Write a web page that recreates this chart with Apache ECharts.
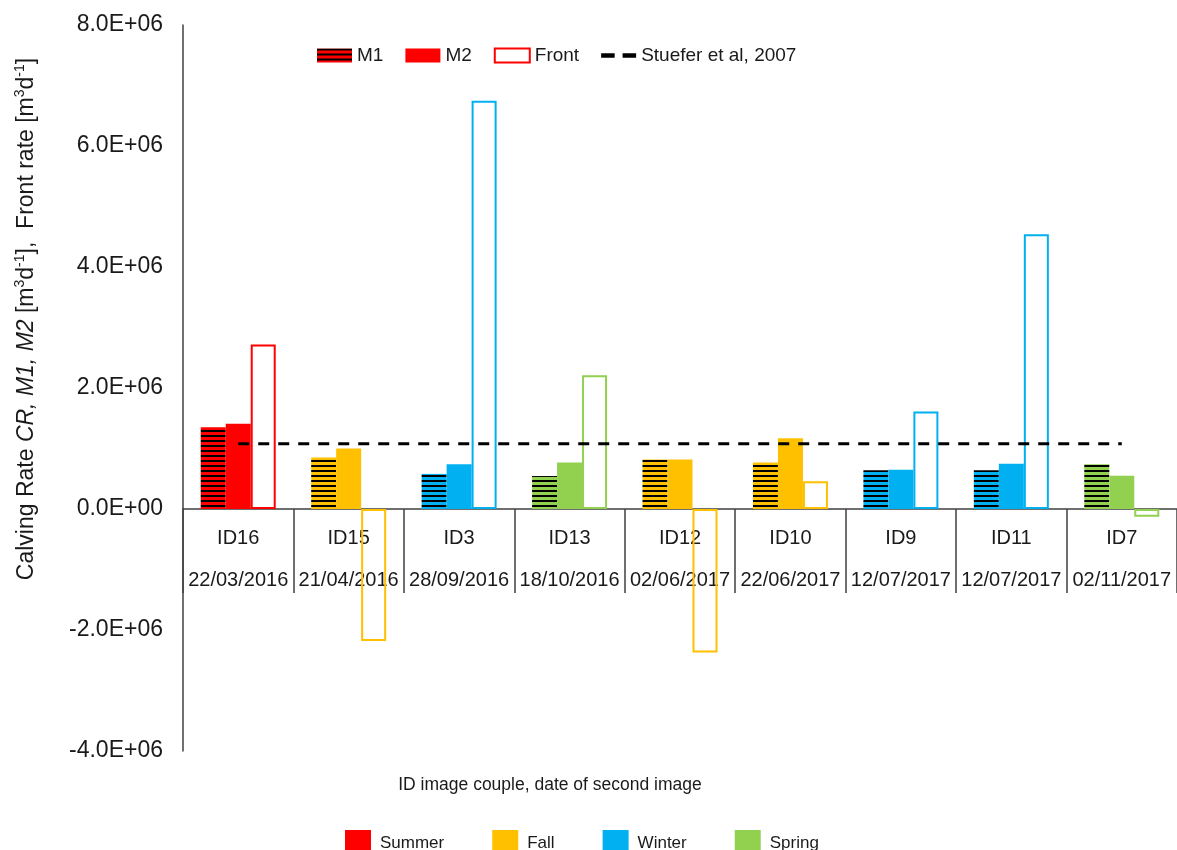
<!DOCTYPE html>
<html>
<head>
<meta charset="utf-8">
<title>Calving rate</title>
<script src="https://cdn.jsdelivr.net/npm/echarts@6/dist/echarts.min.js"></script>
<style>
  html, body { margin: 0; padding: 0; background: #fff; }
  #chart { width: 1177px; height: 850px; }
</style>
</head>
<body>
<div id="chart"></div>
<script>
// image couples
var ids = ['ID16', 'ID15', 'ID3', 'ID13', 'ID12', 'ID10', 'ID9', 'ID11', 'ID7'];
var dates = ['22/03/2016', '21/04/2016', '28/09/2016', '18/10/2016', '02/06/2017',
  '22/06/2017', '12/07/2017', '12/07/2017', '02/11/2017'];
var seasons = ['Summer', 'Fall', 'Winter', 'Spring', 'Fall', 'Fall', 'Winter', 'Winter', 'Spring'];

// rates [m3/d]
var m1 = [1.35e6, 0.85e6, 0.58e6, 0.545e6, 0.82e6, 0.77e6, 0.64e6, 0.64e6, 0.74e6];
var m2 = [1.41e6, 1.0e6, 0.74e6, 0.77e6, 0.82e6, 1.17e6, 0.65e6, 0.75e6, 0.55e6];
var front = [2.72e6, -2.18e6, 6.75e6, 2.21e6, -2.37e6, 0.46e6, 1.61e6, 4.54e6, -0.13e6];
var stuefer = [1.08e6, 1.08e6, 1.08e6, 1.08e6, 1.08e6, 1.08e6, 1.08e6, 1.08e6, 1.08e6];

var seasonNames = ['Summer', 'Fall', 'Winter', 'Spring'];
var seasonColors = { Summer: '#FF0000', Fall: '#FFC000', Winter: '#00B0F0', Spring: '#92D050' };

var yMin = -4e6, yMax = 8e6;
var FONT = 'Liberation Sans, Arial, sans-serif';
var TXT = '#1a1a1a';
var AXIS = '#404040';

// horizontal black stripes over the season colour
function hatch(color) {
  var c = document.createElement('canvas');
  c.width = 4;
  c.height = 5;
  var g = c.getContext('2d');
  g.fillStyle = color;
  g.fillRect(0, 0, 4, 5);
  g.fillStyle = '#000';
  g.fillRect(0, 0, 4, 2);
  return { image: c, repeat: 'repeat' };
}

function sci(v) {
  if (v === 0) return '0.0E+00';
  var e = Math.floor(Math.log10(Math.abs(v)));
  var m = v / Math.pow(10, e);
  var es = (e < 0 ? '-' : '+') + (Math.abs(e) < 10 ? '0' : '') + Math.abs(e);
  return m.toFixed(1) + 'E' + es;
}

var gridTop = 25, gridHeight = 726;
// move the category axis (line, ticks, labels) up to the zero level
var zeroOffset = -gridHeight * (0 - yMin) / (yMax - yMin);

var myChart = echarts.init(document.getElementById('chart'));

var seriesList = [
  {
    name: 'M1',
    type: 'bar',
    barWidth: 25,
    barGap: 0,
    itemStyle: { color: hatch('#FF0000') },
    data: m1.map(function (v, i) {
      return { value: v, itemStyle: { color: hatch(seasonColors[seasons[i]]) } };
    })
  },
  {
    name: 'M2',
    type: 'bar',
    barWidth: 25,
    barGap: 0,
    itemStyle: { color: '#FF0000' },
    data: m2.map(function (v, i) {
      return { value: v, itemStyle: { color: seasonColors[seasons[i]] } };
    })
  },
  {
    name: 'Front',
    type: 'bar',
    barWidth: 25,
    barGap: 0,
    itemStyle: { color: 'rgba(255,255,255,0)', borderColor: '#FF0000', borderWidth: 2 },
    data: front.map(function (v, i) {
      return { value: v, itemStyle: { borderColor: seasonColors[seasons[i]] } };
    })
  },
  {
    name: 'Stuefer et al, 2007',
    type: 'line',
    z: 5,
    symbol: 'none',
    silent: true,
    itemStyle: { color: '#000' },
    lineStyle: { color: '#000', width: 3, type: [11, 9] },
    data: stuefer
  }
];

// season entries only feed the lower legend
seasonNames.forEach(function (s) {
  seriesList.push({
    name: s,
    type: 'scatter',
    symbol: 'rect',
    itemStyle: { color: seasonColors[s], opacity: 1 },
    data: []
  });
});

var option = {
  animation: false,
  textStyle: { fontFamily: FONT },
  grid: { left: 183, top: gridTop, width: 998, height: gridHeight, containLabel: false },
  legend: [
    {
      left: 312,
      top: 41,
      itemWidth: 35,
      itemHeight: 14,
      itemGap: 22,
      selectedMode: false,
      textStyle: { fontSize: 19, color: TXT, fontFamily: FONT },
      data: [
        { name: 'M1', icon: 'rect' },
        { name: 'M2', icon: 'rect' },
        { name: 'Front', icon: 'rect' },
        {
          name: 'Stuefer et al, 2007',
          icon: 'path://M0,0h12v4h-12z M19,0h12v4h-12z',
          itemStyle: { color: '#000', borderWidth: 0 }
        }
      ]
    },
    {
      left: 340,
      top: 825,
      itemWidth: 26,
      itemHeight: 26,
      itemGap: 48,
      selectedMode: false,
      icon: 'rect',
      textStyle: { fontSize: 17, color: TXT, fontFamily: FONT, padding: [0, 0, 0, 4] },
      data: seasonNames
    }
  ],
  xAxis: {
    type: 'category',
    data: ids,
    offset: zeroOffset,
    axisLine: { onZero: false, lineStyle: { color: AXIS, width: 1.5 } },
    axisTick: { show: true, interval: 0, length: 84, lineStyle: { color: AXIS, width: 1.5 } },
    axisLabel: {
      interval: 0,
      margin: 8,
      fontSize: 20,
      lineHeight: 42,
      color: TXT,
      fontFamily: FONT,
      formatter: function (v, i) { return v + '\n' + dates[i]; }
    },
    splitLine: { show: false }
  },
  yAxis: {
    type: 'value',
    min: yMin,
    max: yMax,
    interval: 2e6,
    axisLine: { show: true, lineStyle: { color: AXIS, width: 1.5 } },
    axisTick: { show: false },
    splitLine: { show: false },
    axisLabel: {
      margin: 20,
      fontSize: 23,
      color: TXT,
      fontFamily: FONT,
      formatter: sci
    }
  },
  graphic: [
    {
      type: 'text',
      x: 27,
      y: 319,
      rotation: Math.PI / 2,
      style: {
        text: '{n|Calving Rate }{i|CR, M1, M2}{n| [m}{s|3}{n|d}{s|-1}{n|],  Front rate [m}{s|3}{n|d}{s|-1}{n|]}',
        align: 'center',
        verticalAlign: 'middle',
        fill: TXT,
        rich: {
          n: { fontSize: 23, lineHeight: 27, fontFamily: FONT, fill: TXT },
          i: { fontSize: 23, lineHeight: 27, fontFamily: FONT, fontStyle: 'italic', fill: TXT },
          s: { fontSize: 14, lineHeight: 14, fontFamily: FONT, verticalAlign: 'top', fill: TXT }
        }
      }
    },
    {
      type: 'text',
      x: 550,
      y: 785,
      style: {
        text: 'ID image couple, date of second image',
        align: 'center',
        verticalAlign: 'middle',
        fontSize: 17.5,
        fontFamily: FONT,
        fill: TXT
      }
    }
  ],
  series: seriesList
};

myChart.setOption(option);
</script>
</body>
</html>
